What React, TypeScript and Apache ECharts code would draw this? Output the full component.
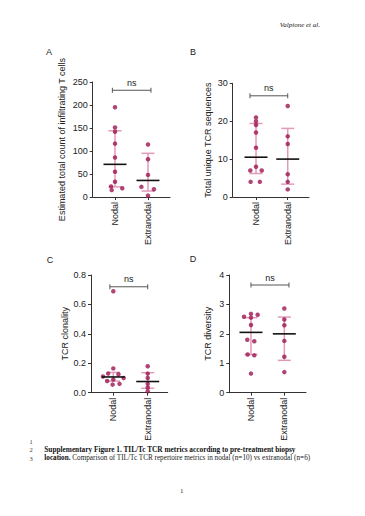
import React, { useEffect, useRef } from "react";
import * as echarts from "echarts";

const groups = ["Nodal", "Extranodal"];

// Panel A – Estimated total count of infiltrating T cells
const nodalA = [195, 151, 142, 116, 86, 55, 33, 23, 19, 15];
const extranodalA = [114, 82, 48, 22, 17, 3];
const medianA = [71, 36];
const lowerA = [22, 13];
const upperA = [144, 95];

// Panel B – Total unique TCR sequences
const nodalB = [21, 20, 19, 17, 13, 8, 7, 7, 4, 4];
const extranodalB = [24, 16, 14, 6, 4, 2];
const medianB = [10.5, 10];
const lowerB = [6.2, 3.4];
const upperB = [19.4, 18.1];

// Panel C – TCR clonality
const nodalC = [0.69, 0.165, 0.13, 0.125, 0.11, 0.1, 0.09, 0.08, 0.06, 0.055];
const extranodalC = [0.18, 0.13, 0.1, 0.06, 0.035, 0.01];
const medianC = [0.107, 0.076];
const lowerC = [0.079, 0.03];
const upperC = [0.138, 0.136];

// Panel D – TCR diversity
const nodalD = [2.68, 2.65, 2.58, 2.55, 2.3, 1.8, 1.75, 1.3, 1.27, 0.65];
const extranodalD = [2.86, 2.49, 2.29, 1.76, 1.22, 0.7];
const medianD = [2.05, 2.0];
const lowerD = [1.3, 1.1];
const upperD = [2.55, 2.57];

// horizontal spread of the dots (category units)
const nodalAJitter = [0, 0, 0, 0, 0, 0, 0, -0.12, 0.22, -0.1];
const extranodalAJitter = [0, 0, 0, -0.2, 0.18, 0];
const nodalBJitter = [0, 0, 0, 0, 0, 0, -0.18, 0.18, -0.17, 0.12];
const extranodalBJitter = [0, 0, 0, 0, 0, 0];
const nodalCJitter = [0, 0, -0.15, 0.15, -0.3, 0.3, 0, -0.18, 0.18, -0.02];
const extranodalCJitter = [0, 0, 0, 0, 0, 0];
const nodalDJitter = [0, 0.2, -0.21, 0, 0, -0.11, 0.1, -0.1, 0.1, 0];
const extranodalDJitter = [0, 0, 0, 0, 0, 0];

const FONT = "Liberation Sans, Arial, sans-serif";
const SERIF = "Liberation Serif, Times New Roman, serif";
const DOT = "#9c1753";
const PINK = "#e39ab9";
const TXT = "#222";

type Panel = {
  letter: string;
  title: string;
  nodal: number[];
  extranodal: number[];
  nodalJ: number[];
  extranodalJ: number[];
  median: number[];
  lower: number[];
  upper: number[];
  grid: { left: number; top: number; width: number; height: number };
  xMin: number;
  xMax: number;
  yMax: number;
  interval: number;
  decimals: number;
  nameGap: number;
  bracket: number[];
  letterPos: number[];
};

const panels: Panel[] = [
  {
    letter: "A",
    title: "Estimated total count of infiltrating T cells",
    nodal: nodalA, extranodal: extranodalA, nodalJ: nodalAJitter, extranodalJ: extranodalAJitter,
    median: medianA, lower: lowerA, upper: upperA,
    grid: { left: 92.7, top: 82, width: 77.3, height: 115 },
    xMin: -0.676, xMax: 1.667, yMax: 250, interval: 50, decimals: 0, nameGap: 26,
    bracket: [-0.08, 1.09, 232], letterPos: [49, 52],
  },
  {
    letter: "B",
    title: "Total unique TCR sequences",
    nodal: nodalB, extranodal: extranodalB, nodalJ: nodalBJitter, extranodalJ: extranodalBJitter,
    median: medianB, lower: lowerB, upper: upperB,
    grid: { left: 232.7, top: 83.3, width: 76.3, height: 113.7 },
    xMin: -0.735, xMax: 1.67, yMax: 30, interval: 10, decimals: 0, nameGap: 20,
    bracket: [-0.19, 1.0, 26.7], letterPos: [193, 52],
  },
  {
    letter: "C",
    title: "TCR clonality",
    nodal: nodalC, extranodal: extranodalC, nodalJ: nodalCJitter, extranodalJ: extranodalCJitter,
    median: medianC, lower: lowerC, upper: upperC,
    grid: { left: 91, top: 275, width: 76.7, height: 117.7 },
    xMin: -0.648, xMax: 1.58, yMax: 0.8, interval: 0.2, decimals: 1, nameGap: 14,
    bracket: [-0.1, 1.0, 0.72], letterPos: [50, 260],
  },
  {
    letter: "D",
    title: "TCR diversity",
    nodal: nodalD, extranodal: extranodalD, nodalJ: nodalDJitter, extranodalJ: extranodalDJitter,
    median: medianD, lower: lowerD, upper: upperD,
    grid: { left: 229.3, top: 275, width: 76.7, height: 117.7 },
    xMin: -0.65, xMax: 1.65, yMax: 4, interval: 1, decimals: 0, nameGap: 17,
    bracket: [0, 1.14, 3.66], letterPos: [193, 259],
  },
];

function errorRender(params: any, api: any) {
  const x = api.value(0);
  const lo = api.coord([x, api.value(2)]);
  const hi = api.coord([x, api.value(3)]);
  const cap = 6.5;
  const st = { stroke: PINK, lineWidth: 1.5 };
  return {
    type: "group",
    children: [
      { type: "line", shape: { x1: lo[0], y1: lo[1], x2: hi[0], y2: hi[1] }, style: st },
      { type: "line", shape: { x1: lo[0] - cap, y1: lo[1], x2: lo[0] + cap, y2: lo[1] }, style: st },
      { type: "line", shape: { x1: hi[0] - cap, y1: hi[1], x2: hi[0] + cap, y2: hi[1] }, style: st },
    ],
  };
}

function medianRender(params: any, api: any) {
  const x = api.value(0);
  const m = api.coord([x, api.value(1)]);
  const w = 11.5;
  return {
    type: "line",
    shape: { x1: m[0] - w, y1: m[1], x2: m[0] + w, y2: m[1] },
    style: { stroke: "#111", lineWidth: 1.6 },
  };
}

function bracketRender(params: any, api: any) {
  const a = api.coord([api.value(0), api.value(2)]);
  const b = api.coord([api.value(1), api.value(2)]);
  const st = { stroke: "#555", lineWidth: 1 };
  return {
    type: "group",
    children: [
      { type: "line", shape: { x1: a[0], y1: a[1], x2: b[0], y2: b[1] }, style: st },
      { type: "line", shape: { x1: a[0], y1: a[1] - 2.5, x2: a[0], y2: a[1] + 2.5 }, style: st },
      { type: "line", shape: { x1: b[0], y1: b[1] - 2.5, x2: b[0], y2: b[1] + 2.5 }, style: st },
      {
        type: "text",
        x: (a[0] + b[0]) / 2,
        y: a[1] - 3,
        style: { text: "ns", fontSize: 9, fontFamily: FONT, fill: TXT, align: "center", verticalAlign: "bottom" },
      },
    ],
  };
}

export default function App() {
  const ref = useRef<HTMLDivElement>(null);
  useEffect(() => {
    if (!ref.current) return;
    const chart = echarts.init(ref.current, undefined, { renderer: "svg" });
    const grid: any[] = [];
    const xAxis: any[] = [];
    const yAxis: any[] = [];
    const series: any[] = [];
    const graphic: any[] = [];
    panels.forEach((p, i) => {
      grid.push({ ...p.grid, containLabel: false });
      xAxis.push({
        gridIndex: i,
        type: "value",
        min: p.xMin,
        max: p.xMax,
        splitLine: { show: false },
        axisLine: { show: true, onZero: false, lineStyle: { color: "#333", width: 1 } },
        axisTick: { show: true, length: 3, customValues: [0, 1], lineStyle: { color: "#333" } },
        axisLabel: {
          customValues: [0, 1],
          rotate: 90,
          margin: 5,
          fontSize: 9,
          fontFamily: FONT,
          color: TXT,
          formatter: (v: number) => groups[Math.round(v)] ?? "",
        },
      });
      yAxis.push({
        gridIndex: i,
        type: "value",
        min: 0,
        max: p.yMax,
        interval: p.interval,
        name: p.title,
        nameLocation: "middle",
        nameGap: p.nameGap,
        nameTextStyle: { fontSize: 9, fontFamily: FONT, color: TXT },
        splitLine: { show: false },
        axisLine: { show: true, onZero: false, lineStyle: { color: "#333", width: 1 } },
        axisTick: { show: true, length: 3, lineStyle: { color: "#333" } },
        axisLabel: {
          margin: 5,
          fontSize: 9,
          fontFamily: FONT,
          color: TXT,
          formatter: (v: number) => v.toFixed(p.decimals),
        },
      });
      const summary = groups.map((_, g) => [g, p.median[g], p.lower[g], p.upper[g]]);
      series.push({
        type: "custom",
        xAxisIndex: i,
        yAxisIndex: i,
        z: 1,
        renderItem: errorRender,
        data: summary,
      });
      series.push({
        type: "scatter",
        xAxisIndex: i,
        yAxisIndex: i,
        z: 2,
        symbolSize: 4.5,
        itemStyle: { color: DOT },
        data: [
          ...p.nodal.map((v, k) => [0 + p.nodalJ[k], v]),
          ...p.extranodal.map((v, k) => [1 + p.extranodalJ[k], v]),
        ],
      });
      series.push({
        type: "custom",
        xAxisIndex: i,
        yAxisIndex: i,
        z: 3,
        renderItem: medianRender,
        data: summary,
      });
      series.push({
        type: "custom",
        xAxisIndex: i,
        yAxisIndex: i,
        z: 3,
        clip: false,
        renderItem: bracketRender,
        data: [p.bracket],
      });
      graphic.push({
        type: "text",
        x: p.letterPos[0],
        y: p.letterPos[1],
        style: { text: p.letter, fontSize: 9, fontFamily: FONT, fill: TXT, align: "center", verticalAlign: "middle" },
      });
    });

    graphic.push(
      {
        type: "text",
        x: 320,
        y: 25,
        style: { text: "Valpione et al.", fontSize: 7, fontStyle: "italic", fontFamily: SERIF, fill: "#222", align: "right", verticalAlign: "middle" },
      },
      { type: "text", x: 31, y: 441.5, style: { text: "1", fontSize: 6.5, fontFamily: SERIF, fill: "#444", align: "center", verticalAlign: "middle" } },
      { type: "text", x: 31, y: 449.5, style: { text: "2", fontSize: 6.5, fontFamily: SERIF, fill: "#444", align: "center", verticalAlign: "middle" } },
      { type: "text", x: 31, y: 458, style: { text: "3", fontSize: 6.5, fontFamily: SERIF, fill: "#444", align: "center", verticalAlign: "middle" } },
      {
        type: "text",
        x: 44.3,
        y: 449.5,
        style: {
          text: "Supplementary Figure 1. TIL/Tc TCR metrics according to pre-treatment biopsy",
          fontSize: 7.3,
          fontWeight: "bold",
          fontFamily: SERIF,
          fill: "#111",
          align: "left",
          verticalAlign: "middle",
        },
      },
      {
        type: "text",
        x: 44.3,
        y: 458,
        style: {
          text: "{b|location.} Comparison of TIL/Tc TCR repertoire metrics in nodal (n=10) vs extranodal (n=6)",
          fontSize: 7.2,
          fontFamily: SERIF,
          fill: "#222",
          align: "left",
          verticalAlign: "middle",
          rich: { b: { fontWeight: "bold", fontSize: 7.2, fontFamily: SERIF, fill: "#111" } },
        },
      },
      { type: "text", x: 181.7, y: 490.7, style: { text: "1", fontSize: 7, fontFamily: SERIF, fill: "#222", align: "center", verticalAlign: "middle" } }
    );

    chart.setOption({
      animation: false,
      backgroundColor: "#fff",
      grid,
      xAxis,
      yAxis,
      series,
      graphic,
    });
    return () => chart.dispose();
  }, []);
  return (
    <div
      ref={ref}
      style={{ position: "fixed", left: 0, top: 0, width: 365, height: 516, background: "#fff" }}
    />
  );
}
